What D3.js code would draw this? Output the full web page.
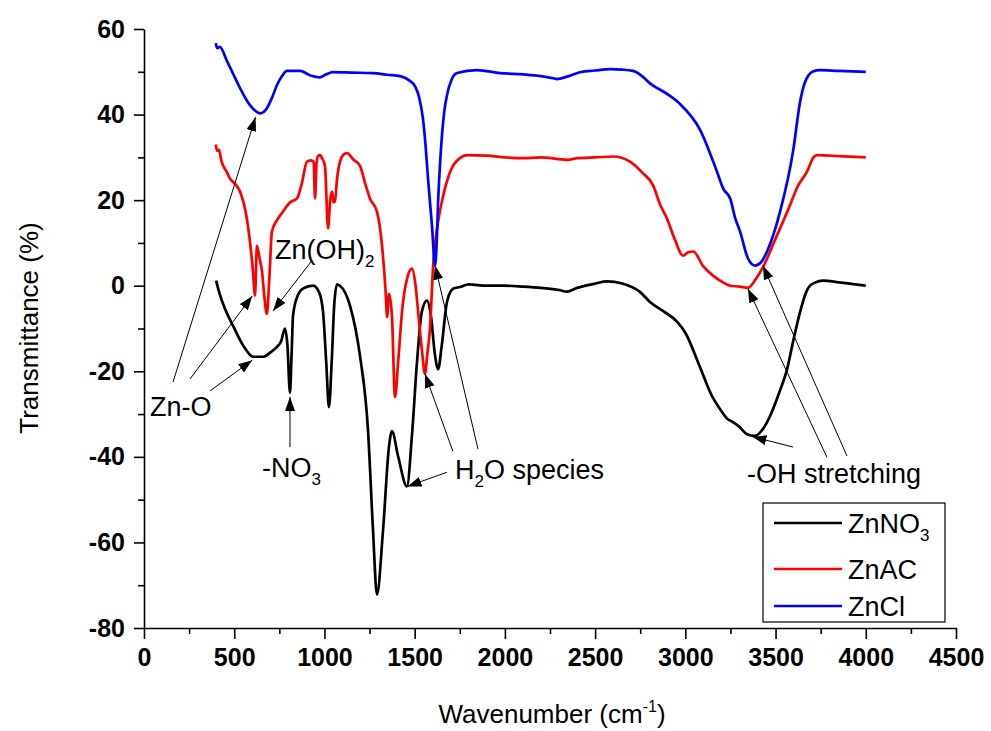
<!DOCTYPE html>
<html>
<head>
<meta charset="utf-8">
<script src="https://cdn.jsdelivr.net/npm/d3@7/dist/d3.min.js"></script>
<style>
  body { margin: 0; background: #ffffff; }
  svg text { font-family: "Liberation Sans", Arial, sans-serif; }
</style>
</head>
<body>
<script>

// Spectra: [wavenumber, transmittance %]
var znno3 = [[400,1.2],[405,0.3],[420,-2],[450,-5.5],[494,-9.4],[550,-14],[605,-16.6],[660,-16.6],[700,-15.6],[737,-14.3],[760,-13],[781,-10],[795,-14],[809,-25],[818,-16],[826,-7],[850,-2.5],[881,-0.7],[937,0],[970,-1.5],[992,-6],[1010,-18],[1025,-28.4],[1040,-18],[1055,-4],[1070,0.3],[1086,0],[1142,-4.7],[1197,-16.4],[1241,-33.5],[1269,-57],[1291,-72.2],[1325,-57],[1358,-37.5],[1374,-34],[1408,-39.8],[1457,-46.9],[1485,-35],[1513,-17.8],[1540,-6],[1568,-3.5],[1590,-7],[1612,-16],[1630,-19.5],[1650,-14],[1679,-3.8],[1713,-0.7],[1750,-0.3],[1800,0.3],[1900,0],[2000,0],[2100,-0.2],[2200,-0.5],[2300,-1],[2344,-1.4],[2400,-0.5],[2500,0.5],[2566,1],[2650,0.5],[2750,-1.5],[2804,-3.8],[2880,-6],[2954,-8.4],[3000,-11],[3081,-19],[3150,-26],[3192,-28.8],[3230,-31],[3264,-31.9],[3300,-33],[3342,-34.7],[3386,-35.1],[3430,-33.5],[3469,-30.5],[3520,-25],[3564,-19.5],[3600,-12.5],[3636,-6.1],[3670,-1.5],[3691,0],[3730,0.9],[3763,1.2],[3850,0.8],[4000,0]];

var znac = [[398,33],[405,31.5],[415,31.8],[430,29],[460,26.5],[477,25],[500,24],[532,22],[570,15.7],[604,3.3],[615,-2.3],[626,9.4],[640,6.5],[654,3.3],[668,-3],[681,-6.6],[695,2],[709,12.7],[740,15.5],[770,17.3],[810,19.5],[848,20.4],[875,24],[903,29],[925,29.3],[940,29],[948,20.4],[956,28.5],[965,30.3],[975,30.5],[990,29.5],[1003,28],[1020,13.4],[1032,20],[1042,22],[1050,19.5],[1058,19.7],[1070,25],[1086,29],[1105,30.6],[1125,31],[1160,29.5],[1197,28],[1225,24],[1252,20.4],[1291,17.3],[1319,9.4],[1340,-2],[1347,-7.3],[1358,-1.9],[1374,-7],[1391,-26],[1410,-17],[1430,-6],[1460,2],[1485,4],[1505,0],[1519,-6],[1540,-15],[1557,-20.6],[1570,-16],[1585,-10],[1602,4.4],[1630,15],[1658,21],[1700,27],[1750,29.8],[1789,30.5],[1900,30.4],[2000,30],[2100,29.8],[2200,30],[2300,29.6],[2350,29.4],[2400,29.8],[2500,30],[2600,30.2],[2693,29],[2760,26.5],[2822,23.4],[2860,19],[2898,15.7],[2940,11],[2988,7],[3015,7.8],[3044,8],[3100,4.5],[3155,2.3],[3200,1],[3248,0],[3300,-0.2],[3348,-0.5],[3390,1.5],[3431,4.4],[3500,11],[3580,18.8],[3620,23],[3675,26.7],[3710,30],[3730,30.5],[3850,30.3],[4000,30]];

var zncl = [[398,56.7],[405,55.5],[420,55.8],[460,52.5],[500,49],[532,46.2],[587,42.2],[643,40.3],[660,40.5],[681,41.5],[710,44],[737,46.9],[765,49],[792,50.2],[865,50.2],[920,49.2],[975,48.7],[1010,49.4],[1047,49.9],[1150,49.8],[1269,49.7],[1350,49.3],[1419,49],[1470,48],[1502,46.6],[1525,44],[1546,39],[1560,33],[1574,25],[1596,14],[1613,4.7],[1622,10],[1630,19.7],[1640,28],[1651,35],[1665,41],[1679,44.5],[1705,48.2],[1735,49.7],[1845,50.4],[1973,49.7],[2100,49.4],[2200,49],[2267,48.5],[2289,48.3],[2340,48.8],[2416,49.9],[2500,50.3],[2583,50.6],[2650,50.5],[2710,50.2],[2760,49],[2804,47.3],[2900,44.8],[2970,42.5],[3081,36.5],[3175,26.7],[3210,22.7],[3250,20.2],[3275,16],[3303,12.7],[3348,6.3],[3386,4.7],[3420,5.5],[3453,8],[3525,17.3],[3597,31.4],[3636,43],[3660,47.2],[3680,49],[3710,50.1],[3746,50.4],[3850,50.2],[4000,50]];

// series names (main part + subscript) and colours, drawn in this order
var seriesData = [znno3, znac, zncl];
var seriesNames = [["ZnNO", "3"], ["ZnAC", ""], ["ZnCl", ""]];
var seriesColors = ["#000000", "#ff0000", "#0000ff"];

// tick values
var xTicks = [0, 500, 1000, 1500, 2000, 2500, 3000, 3500, 4000, 4500];
var xMinorTicks = [250, 750, 1250, 1750, 2250, 2750, 3250, 3750, 4250];
var yTicks = [-80, -60, -40, -20, 0, 20, 40, 60];
var yMinorTicks = [-70, -50, -30, -10, 10, 30, 50];

// annotation labels: parts of text (second part is subscript), anchor in data units
var labelParts = [
  [["Zn-O", ""]],
  [["Zn(OH)", "2"]],
  [["-NO", "3"]],
  [["H", "2"], ["O species", ""]],
  [["-OH stretching", ""]]
];
var labelPos = [[33, -30.5], [726, 6.3], [654, -44.8], [1724, -45.2], [3342, -46]];

// annotation arrows: [fromX, fromY, toX, toY] in data units
var arrows = [
  [161, -22.5, 618, 39.4],
  [255, -21.8, 600, -2.4],
  [366, -24.6, 600, -17.4],
  [931, 5.9, 715, -5.9],
  [809, -37.7, 809, -26],
  [1679, -43.6, 1460, -46.9],
  [1712, -38.7, 1557, -20.6],
  [1851, -38.2, 1613, 4.7],
  [3597, -37.7, 3372, -35.3],
  [3785, -40.1, 3347, -0.7],
  [3896, -39.8, 3430, 4.7]
];

var w = 991;
var h = 731;

var svg = d3.select("body")
            .append("svg")
            .attr("width", w)
            .attr("height", h);

svg.append("rect")
   .attr("width", w)
   .attr("height", h)
   .attr("fill", "#ffffff");

// scales
var xScale = d3.scaleLinear()
               .domain([0, 4500])
               .range([144, 956]);

var yScale = d3.scaleLinear()
               .domain([-80, 60])
               .range([628, 29]);

// plain labels, hyphen minus and no thousands separator
var plain = function(d) { return String(d); };

// arrowhead marker
svg.append("defs")
   .append("marker")
   .attr("id", "head")
   .attr("markerUnits", "userSpaceOnUse")
   .attr("viewBox", "0 0 14 10")
   .attr("refX", 14)
   .attr("refY", 5)
   .attr("markerWidth", 14)
   .attr("markerHeight", 10)
   .attr("orient", "auto")
   .append("path")
   .attr("d", "M0,0 L14,5 L0,10 Z")
   .attr("fill", "#000");

// curves
var line = d3.line()
             .x(d => xScale(d[0]))
             .y(d => yScale(d[1]))
             .curve(d3.curveMonotoneX);

svg.selectAll(".spectrum")
   .data(seriesData)
   .enter()
   .append("path")
   .attr("class", "spectrum")
   .attr("d", line)
   .attr("fill", "none")
   .attr("stroke", (d, i) => seriesColors[i])
   .attr("stroke-width", 2.7)
   .attr("stroke-linejoin", "round");

// axes
svg.append("g")
   .attr("transform", "translate(144,0)")
   .call(d3.axisLeft(yScale).tickValues(yTicks).tickFormat(plain).tickSize(10).tickSizeOuter(0).tickPadding(9));

svg.append("g")
   .attr("transform", "translate(144,0)")
   .call(d3.axisLeft(yScale).tickValues(yMinorTicks).tickSize(6).tickFormat(""))
   .select(".domain").remove();

svg.append("g")
   .attr("transform", "translate(0,628)")
   .call(d3.axisBottom(xScale).tickValues(xTicks).tickFormat(plain).tickSize(11).tickSizeOuter(0).tickPadding(9));

svg.append("g")
   .attr("transform", "translate(0,628)")
   .call(d3.axisBottom(xScale).tickValues(xMinorTicks).tickSize(6).tickFormat(""))
   .select(".domain").remove();

svg.selectAll(".domain, .tick line")
   .attr("stroke", "#000")
   .attr("stroke-width", 1.6);

svg.selectAll(".tick text")
   .attr("font-family", "Liberation Sans, Arial, sans-serif")
   .attr("font-size", 25)
   .attr("font-weight", "bold")
   .attr("fill", "#000");

// axis titles
var xTitle = svg.append("text")
                .attr("x", 552)
                .attr("y", 723)
                .attr("text-anchor", "middle")
                .attr("font-size", 26);

xTitle.append("tspan").text("Wavenumber (cm");
xTitle.append("tspan").attr("font-size", 16).attr("dy", -11).text("-1");
xTitle.append("tspan").attr("dy", 11).text(")");

svg.append("text")
   .attr("transform", "translate(38,328) rotate(-90)")
   .attr("text-anchor", "middle")
   .attr("font-size", 26)
   .text("Transmittance (%)");

// annotation arrows
svg.selectAll(".arrow")
   .data(arrows)
   .enter()
   .append("line")
   .attr("class", "arrow")
   .attr("x1", d => xScale(d[0]))
   .attr("y1", d => yScale(d[1]))
   .attr("x2", d => xScale(d[2]))
   .attr("y2", d => yScale(d[3]))
   .attr("stroke", "#000")
   .attr("stroke-width", 1)
   .attr("marker-end", "url(#head)");

// annotation labels with subscripts
labelParts.forEach(function(parts, i) {
  var t = svg.append("text")
             .attr("x", xScale(labelPos[i][0]))
             .attr("y", yScale(labelPos[i][1]))
             .attr("font-size", 27)
             .attr("fill", "#000");
  var shift = 0;
  parts.forEach(function(p) {
    t.append("tspan").attr("dy", -shift).text(p[0]);
    shift = 0;
    if (p[1] != "") {
      t.append("tspan").attr("font-size", 17).attr("dy", 8).text(p[1]);
      shift = 8;
    }
  });
});

// legend
var legend = svg.append("g")
                .attr("class", "legend")
                .attr("transform", "translate(763,503)");

legend.append("rect")
      .attr("width", 182)
      .attr("height", 119)
      .attr("fill", "#fff")
      .attr("stroke", "#000")
      .attr("stroke-width", 1.2);

var legendY = [20, 66, 103];

var entry = legend.selectAll(".entry")
                  .data(seriesNames)
                  .enter()
                  .append("g")
                  .attr("class", "entry")
                  .attr("transform", (d, i) => "translate(0," + legendY[i] + ")");

entry.append("line")
     .attr("x1", 11)
     .attr("x2", 79)
     .attr("stroke", (d, i) => seriesColors[i])
     .attr("stroke-width", 2.7);

var entryText = entry.append("text")
                     .attr("x", 85)
                     .attr("y", 10)
                     .attr("font-size", 27)
                     .attr("fill", "#000");

entryText.append("tspan").text(d => d[0]);
entryText.append("tspan")
         .attr("font-size", 17)
         .attr("dy", 8)
         .text(d => d[1]);

</script>
</body>
</html>
